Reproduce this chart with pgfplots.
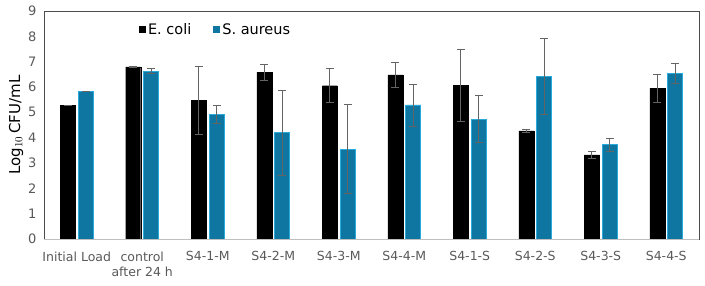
\documentclass[border=0pt]{standalone}
\usepackage{pgfplots}
\pgfplotsset{compat=1.18}
\usepackage{pgfplotstable}
\usepackage{fontspec}
\setmainfont{DejaVu Sans}
\definecolor{sblue}{RGB}{14,118,160}
\definecolor{sedge}{RGB}{40,170,220}
\definecolor{tickgray}{RGB}{89,89,89}
\definecolor{errgray}{RGB}{100,100,100}
\pgfplotstableread{
x y e
0 5.28 0.01
1 6.79 0.03
2 5.48 1.35
3 6.58 0.33
4 6.05 0.67
5 6.48 0.50
6 6.07 1.42
7 4.27 0.07
8 3.32 0.12
9 5.95 0.55
}\ecoli
\pgfplotstableread{
x y e
0 5.83 0.01
1 6.62 0.10
2 4.93 0.35
3 4.20 1.68
4 3.55 1.76
5 5.29 0.83
6 4.73 0.93
7 6.42 1.50
8 3.72 0.26
9 6.53 0.40
}\saureus
\begin{document}
\begin{tikzpicture}
\path[use as bounding box] (-44pt,-46pt) rectangle (661pt,239pt);
\begin{axis}[
  at={(0pt,0pt)}, anchor=south west,
  scale only axis,
  width=655pt, height=228pt,
  xmin=-0.5, xmax=9.5, ymin=0, ymax=9,
  ybar=3pt, bar width=15pt,
  xtick=data,
  xticklabels={Initial Load,{control\\after 24 h},S4-1-M,S4-2-M,S4-3-M,S4-4-M,S4-1-S,S4-2-S,S4-3-S,S4-4-S},
  xticklabel style={align=center, font=\fontsize{12.5}{15}\selectfont, text=tickgray, yshift=-9pt},
  ytick={0,1,...,9},
  yticklabel style={font=\fontsize{13}{14}\selectfont, text=tickgray, xshift=-4pt},
  /pgf/number format/assume math mode=true,
  major tick length=0pt,
  axis line style={draw=black!70, line width=0.8pt},
  ylabel={Log$_{10}$\,CFU/mL},
  ylabel style={font=\fontsize{15}{16}\selectfont},
  ylabel shift=-2pt,
  legend style={at={(0.262,0.917)}, anchor=center, draw=none, fill=none,
    legend columns=2, font=\fontsize{14.5}{15}\selectfont,
    /tikz/every even column/.append style={column sep=20pt}},
  legend image code/.code={\draw[#1, draw=none] (0pt,-3.5pt) rectangle (7pt,3.5pt);},
  error bars/error bar style={errgray, line width=0.8pt},
  error bars/error mark options={rotate=90, mark size=4pt, errgray, line width=0.8pt},
]
\addplot[fill=black, draw=black, error bars/.cd, y dir=both, y explicit]
  table[x=x, y=y, y error=e] {\ecoli};
\addplot[fill=sblue, draw=sedge, line width=0.8pt, error bars/.cd, y dir=both, y explicit]
  table[x=x, y=y, y error=e] {\saureus};
\legend{E. coli, S. aureus}
\draw[black!25, line width=1pt] (axis cs:-0.5,0) -- (axis cs:9.5,0);
\end{axis}
\end{tikzpicture}
\end{document}
